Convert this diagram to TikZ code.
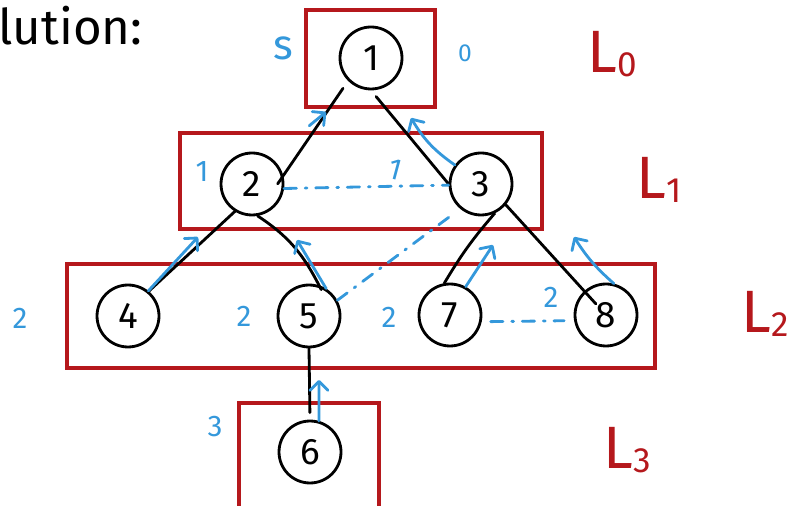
\documentclass[tikz,border=0pt]{standalone}
\usepackage{fontspec}
\setsansfont{Fira Sans}
\usetikzlibrary{arrows.meta}
\definecolor{penblue}{RGB}{52,152,219}
\definecolor{penred}{RGB}{181,24,28}
\tikzset{every node/.append style={font=\sffamily}}
\tikzset{
  vertex/.style={circle,draw,line width=1.6pt,minimum size=1.24cm,inner sep=0pt,font=\sffamily\fontsize{21}{21}\selectfont},
  levelbox/.style={draw=penred,line width=1.8pt},
  treeedge/.style={line width=1.6pt,line cap=round},
  parent/.style={draw=penblue,line width=1.6pt,line cap=round,-{Straight Barb[length=1.8mm,width=3.6mm,round]}},
  crossedge/.style={draw=penblue,line width=1.6pt,line cap=round,dash pattern=on 7pt off 5pt on 1pt off 5pt},
  dist/.style={text=penblue,font=\sffamily\fontsize{17}{17}\selectfont,inner sep=0pt},
  levelname/.style={text=penred,font=\sffamily\fontsize{34}{34}\selectfont,inner sep=0pt},
}
\newcommand{\lvl}[1]{L\raisebox{-2pt}{\fontsize{20}{20}\selectfont#1}}

\begin{document}
\begin{tikzpicture}[x=0.02cm,y=0.02cm]
  \useasboundingbox (0,0) rectangle (801,-506);

  % heading
  \node[anchor=base west,inner sep=0pt,font=\sffamily\fontsize{28}{28}\selectfont] (head) at (-2,-45) {lution:};

  % one box per BFS level
  \draw[levelbox] (306,-10) rectangle (435,-107);
  \draw[levelbox] (180,-133) rectangle (542,-229);
  \draw[levelbox] (67,-264) rectangle (655,-368);
  \draw[levelbox] (239,-403) rectangle (379,-512);

  % vertices
  \node[vertex] (v1) at (371,-58) {1};
  \node[vertex] (v2) at (252,-184) {2};
  \node[vertex] (v3) at (481,-184) {3};
  \node[vertex] (v4) at (128,-316) {4};
  \node[vertex] (v5) at (309,-316) {5};
  \node[vertex] (v7) at (450,-315) {7};
  \node[vertex] (v8) at (606,-315) {8};
  \node[vertex] (v6) at (310,-452) {6};

  % tree edges
  \draw[treeedge,shorten <=0.18cm,shorten >=-0.2cm] (v1.225) -- (v2.15);
  \draw[treeedge,shorten <=0.16cm] (v1.south) -- (v3.west);
  \draw[treeedge] (v2.238) -- (v4.50);
  \draw[treeedge,shorten >=-0.1cm] (v2.280) to[bend left=15] (v5.72);
  \draw[treeedge] (v3.295) to[bend right=5] (v7.100);
  \draw[treeedge,shorten >=0.3cm] (v3.320) -- (v8.center);
  \draw[treeedge,shorten >=0.14cm] (v5.south) -- (v6.north);

  % parent pointers
  \coordinate (t21) at (326,-112);
  \coordinate (t31) at (411,-118);
  \coordinate (t42) at (198,-237);
  \coordinate (t52) at (297,-240);
  \coordinate (t73) at (493,-245);
  \coordinate (t83) at (574,-237);
  \coordinate (t65) at (319,-380);
  \draw[parent,shorten <=1cm] (v2.55) -- (t21);
  \draw[parent] (v3.144) to[bend left=12] (t31);
  \draw[parent] (v4.51) -- (t42);
  \draw[parent] (v5.58) -- (t52);
  \draw[parent] (v7.61) -- (t73);
  \draw[parent] (v8.76) to[bend left=8] (t83);
  \draw[parent] (v6.74) -- (t65);

  % cross edges
  \draw[crossedge] (v2.-8) -- (v3.182);
  \draw[crossedge,shorten >=0.26cm] (v5.29) -- (v3.230);
  \draw[crossedge,shorten <=0.18cm,shorten >=0.2cm] (v7.-12) -- (v8.190);

  % distances
  \node[dist,font=\sffamily\fontsize{24}{24}\selectfont] (ds) at (283,-48) {s};
  \node[dist,font=\sffamily\fontsize{14}{14}\selectfont] (d1) at (465,-53) {0};
  \node[dist] (d2) at (202,-172) {1};
  \node[dist,rotate=-15] (d3) at (395,-170) {1};
  \node[dist] (d4) at (20,-318) {2};
  \node[dist] (d5) at (244,-316) {2};
  \node[dist] (d7) at (389,-317) {2};
  \node[dist] (d8) at (551,-297) {2};
  \node[dist] (d6) at (215,-427) {3};

  % level names
  \node[levelname] (l0) at (612,-54) {\lvl{0}};
  \node[levelname] (l1) at (659,-180) {\lvl{1}};
  \node[levelname] (l2) at (765,-314) {\lvl{2}};
  \node[levelname] (l3) at (627,-450) {\lvl{3}};
\end{tikzpicture}
\end{document}
